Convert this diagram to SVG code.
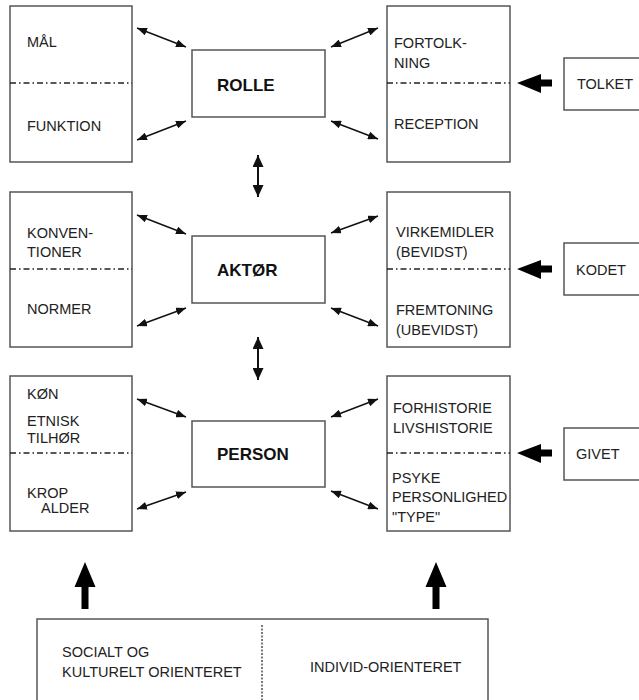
<svg xmlns="http://www.w3.org/2000/svg" width="639" height="700" viewBox="0 0 639 700">
<style>
.box{fill:#fff;stroke:#555;stroke-width:1.5}
.div{stroke:#222;stroke-width:1.3;stroke-dasharray:6 3 1.5 3;fill:none}
.t{font-family:"Liberation Sans",Arial,sans-serif;font-size:14.5px;fill:#222}
.b{font-family:"Liberation Sans",Arial,sans-serif;font-size:17px;font-weight:bold;fill:#111}
.dbl{stroke:#111;stroke-width:1.4;fill:none;marker-start:url(#ah);marker-end:url(#ah)}
.vdbl{stroke:#111;stroke-width:2;fill:none;marker-start:url(#ah2);marker-end:url(#ah2)}
.thick{fill:#000}
</style>
<defs>
<marker id="ah" viewBox="0 0 10 8" refX="10" refY="4" markerWidth="10" markerHeight="8" markerUnits="userSpaceOnUse" orient="auto-start-reverse">
<path d="M0,0 L10,4 L0,8 Z" fill="#111"/>
</marker>
<marker id="ah2" viewBox="0 0 12 11" refX="12" refY="5.5" markerWidth="12" markerHeight="11" markerUnits="userSpaceOnUse" orient="auto-start-reverse">
<path d="M0,0 L12,5.5 L0,11 Z" fill="#111"/>
</marker>
</defs>

<g id="maal-funktion">
<rect class="box" x="10" y="6" width="122" height="156"/>
<line class="div" x1="10" y1="83" x2="132" y2="83"/>
<text class="t" x="27" y="47">MÅL</text>
<text class="t" x="27" y="131">FUNKTION</text>
</g>
<g id="rolle">
<rect class="box" x="192" y="50" width="133" height="67"/>
<text class="b" x="217" y="91">ROLLE</text>
</g>
<g id="fortolkning-reception">
<rect class="box" x="387" y="6" width="123" height="156"/>
<line class="div" x1="387" y1="83" x2="510" y2="83"/>
<text class="t" x="394" y="48">FORTOLK-</text>
<text class="t" x="394" y="68">NING</text>
<text class="t" x="394" y="129">RECEPTION</text>
</g>
<g id="tolket">
<rect class="box" x="564" y="58" width="80" height="52"/>
<text class="t" x="577" y="89">TOLKET</text>
</g>

<g id="konventioner-normer">
<rect class="box" x="10" y="192" width="122" height="155"/>
<line class="div" x1="10" y1="269" x2="132" y2="269"/>
<text class="t" x="27" y="238">KONVEN-</text>
<text class="t" x="27" y="257">TIONER</text>
<text class="t" x="27" y="314">NORMER</text>
</g>
<g id="aktoer">
<rect class="box" x="192" y="236" width="133" height="67"/>
<text class="b" x="217" y="276">AKTØR</text>
</g>
<g id="virkemidler-fremtoning">
<rect class="box" x="387" y="192" width="123" height="155"/>
<line class="div" x1="387" y1="269" x2="510" y2="269"/>
<text class="t" x="396" y="237">VIRKEMIDLER</text>
<text class="t" x="396" y="257">(BEVIDST)</text>
<text class="t" x="396" y="315">FREMTONING</text>
<text class="t" x="396" y="335">(UBEVIDST)</text>
</g>
<g id="kodet">
<rect class="box" x="564" y="243" width="80" height="52"/>
<text class="t" x="576" y="275">KODET</text>
</g>

<g id="koen-krop">
<rect class="box" x="10" y="376" width="122" height="155"/>
<line class="div" x1="10" y1="453" x2="132" y2="453"/>
<text class="t" x="27" y="399">KØN</text>
<text class="t" x="27" y="426">ETNISK</text>
<text class="t" x="27" y="443">TILHØR</text>
<text class="t" x="27" y="498">KROP</text>
<text class="t" x="41" y="513">ALDER</text>
</g>
<g id="person">
<rect class="box" x="192" y="421" width="133" height="66"/>
<text class="b" x="217" y="460">PERSON</text>
</g>
<g id="forhistorie-psyke">
<rect class="box" x="387" y="376" width="123" height="155"/>
<line class="div" x1="387" y1="453" x2="510" y2="453"/>
<text class="t" x="393" y="413">FORHISTORIE</text>
<text class="t" x="393" y="433">LIVSHISTORIE</text>
<text class="t" x="392" y="483">PSYKE</text>
<text class="t" x="392" y="502">PERSONLIGHED</text>
<text class="t" x="392" y="522">"TYPE"</text>
</g>
<g id="givet">
<rect class="box" x="564" y="428" width="80" height="52"/>
<text class="t" x="576" y="459">GIVET</text>
</g>

<g id="orientering">
<rect class="box" x="37" y="619" width="451" height="90"/>
<line x1="262" y1="625" x2="262" y2="700" stroke="#222" stroke-width="1.2" stroke-dasharray="2 1.5"/>
<text class="t" x="62" y="657">SOCIALT OG</text>
<text class="t" x="62" y="677">KULTURELT ORIENTERET</text>
<text class="t" x="310" y="672">INDIVID-ORIENTERET</text>
</g>

<g id="connectors">
<line class="dbl" x1="137" y1="28" x2="186" y2="47"/>
<line class="dbl" x1="137" y1="140" x2="186" y2="121"/>
<line class="dbl" x1="331" y1="47" x2="378" y2="28"/>
<line class="dbl" x1="331" y1="121" x2="378" y2="139"/>

<line class="dbl" x1="137" y1="215" x2="186" y2="234"/>
<line class="dbl" x1="137" y1="326" x2="186" y2="308"/>
<line class="dbl" x1="331" y1="233" x2="378" y2="216"/>
<line class="dbl" x1="331" y1="308" x2="378" y2="326"/>

<line class="dbl" x1="137" y1="399" x2="186" y2="417"/>
<line class="dbl" x1="137" y1="509" x2="186" y2="492"/>
<line class="dbl" x1="331" y1="417" x2="378" y2="399"/>
<line class="dbl" x1="331" y1="491" x2="378" y2="509"/>

<line class="vdbl" x1="258" y1="155" x2="258" y2="197"/>
<line class="vdbl" x1="258" y1="337" x2="258" y2="380"/>

<polygon class="thick" points="517,83 541,74 541,79.5 552,79.5 552,86.5 541,86.5 541,93"/>
<polygon class="thick" points="517,269 541,260 541,265.5 552,265.5 552,272.5 541,272.5 541,279"/>
<polygon class="thick" points="517,453 541,444 541,449.5 552,449.5 552,456.5 541,456.5 541,463"/>

<polygon class="thick" points="85,562 95.5,587 88.5,587 88.5,609 81.5,609 81.5,587 74.5,587"/>
<polygon class="thick" points="436,562 446.5,587 439.5,587 439.5,609 432.5,609 432.5,587 425.5,587"/>
</g>
</svg>
